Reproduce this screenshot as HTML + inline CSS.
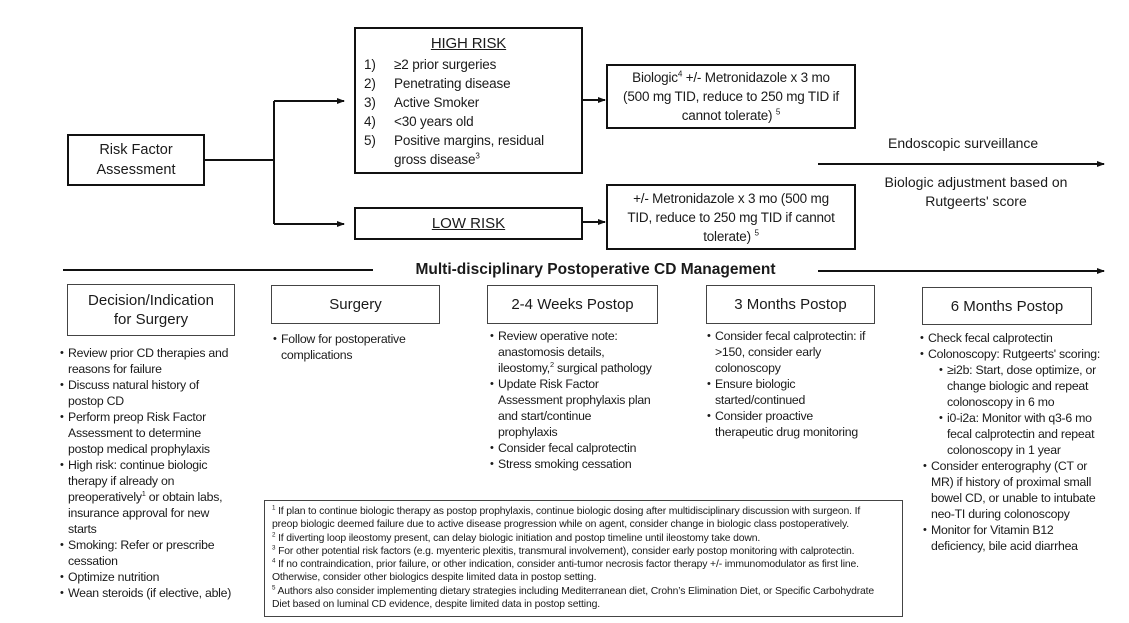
<!DOCTYPE html>
<html><head><meta charset="utf-8"><style>
body{margin:0;width:1129px;height:623px;background:#fff;position:relative;overflow:hidden;font-family:"Liberation Sans",sans-serif;color:#1a1a1a}
.a{position:absolute}
.box{position:absolute;border:2px solid #111;box-sizing:border-box}
.fx{display:flex;align-items:center;justify-content:center;text-align:center}
.hb{position:absolute;border:1px solid #444;box-sizing:border-box;display:flex;align-items:center;justify-content:center;text-align:center;font-size:15px;line-height:19px}
.t{position:absolute;font-size:13.5px;letter-spacing:-0.15px;white-space:nowrap}
ul{position:absolute;margin:0;padding:0;list-style:none;font-size:12.3px;letter-spacing:-0.25px;line-height:16px;white-space:nowrap}
li{position:relative;padding-left:7px}
li:before{content:"•";position:absolute;left:-1px;font-size:11px}
li.s{margin-left:19px}
.fn{position:absolute;left:264px;top:500px;width:639px;height:117px;border:1px solid #444;box-sizing:border-box;padding:4px 7px;font-size:10.4px;letter-spacing:-0.15px;line-height:13.3px;white-space:nowrap}
sup{font-size:0.6em;line-height:0;vertical-align:super}
</style></head><body>
<svg class="a" style="left:0;top:0" width="1129" height="623">
<defs><marker id="ar" markerWidth="8" markerHeight="8" refX="7" refY="4" orient="auto" markerUnits="userSpaceOnUse"><path d="M0,1 L8,4 L0,7z" fill="#111"/></marker></defs>
<g stroke="#111" stroke-width="2" fill="none">
<path d="M205 160 H274"/>
<path d="M274 101 V224"/>
<path d="M274 101 H344" marker-end="url(#ar)"/>
<path d="M274 224 H344" marker-end="url(#ar)"/>
<path d="M583 100 H605" marker-end="url(#ar)"/>
<path d="M583 222 H605" marker-end="url(#ar)"/>
<path d="M818 164 H1104" marker-end="url(#ar)"/>
<path d="M818 271 H1104" marker-end="url(#ar)"/>
<path d="M63 270 H373"/>
</g></svg>

<div class="box fx" style="left:67px;top:134px;width:138px;height:52px;font-size:14.5px;line-height:20px"><div>Risk Factor<br>Assessment</div></div>

<div class="box" style="left:354px;top:27px;width:229px;height:147px"></div>
<div class="t" style="left:354px;width:229px;text-align:center;top:35px;font-size:15px;text-decoration:underline">HIGH RISK</div>
<div class="t" style="left:364px;top:55px;line-height:19px">1)<br>2)<br>3)<br>4)<br>5)</div>
<div class="t" style="left:394px;top:55px;line-height:19px">≥2 prior surgeries<br>Penetrating disease<br>Active Smoker<br>&lt;30 years old<br>Positive margins, residual<br>gross disease<sup>3</sup></div>

<div class="box fx" style="left:354px;top:207px;width:229px;height:33px;font-size:15px"><u>LOW RISK</u></div>

<div class="box fx" style="left:606px;top:64px;width:250px;height:65px;font-size:13.5px;letter-spacing:-0.2px;line-height:19px"><div>Biologic<sup>4</sup> +/- Metronidazole x 3 mo<br>(500 mg TID, reduce to 250 mg TID if<br>cannot tolerate) <sup>5</sup></div></div>
<div class="box fx" style="left:606px;top:184px;width:250px;height:66px;font-size:13.5px;letter-spacing:-0.2px;line-height:19px"><div>+/- Metronidazole x 3 mo (500 mg<br>TID, reduce to 250 mg TID if cannot<br>tolerate) <sup>5</sup></div></div>

<div class="t" style="left:888px;top:135px;font-size:14px;letter-spacing:0">Endoscopic surveillance</div>
<div class="t" style="left:870px;width:212px;top:173px;font-size:14px;letter-spacing:0;text-align:center;line-height:19px">Biologic adjustment based on<br>Rutgeerts' score</div>

<div class="t" style="left:373px;width:445px;text-align:center;top:261px;font-size:15.5px;font-weight:bold;letter-spacing:0">Multi-disciplinary Postoperative CD Management</div>

<div class="hb" style="left:67px;top:284px;width:168px;height:52px">Decision/Indication<br>for Surgery</div>
<div class="hb" style="left:271px;top:285px;width:169px;height:39px">Surgery</div>
<div class="hb" style="left:487px;top:285px;width:171px;height:39px">2-4 Weeks Postop</div>
<div class="hb" style="left:706px;top:285px;width:169px;height:39px">3 Months Postop</div>
<div class="hb" style="left:922px;top:287px;width:170px;height:38px">6 Months Postop</div>

<ul style="left:61px;top:345px">
<li>Review prior CD therapies and<br>reasons for failure</li>
<li>Discuss natural history of<br>postop CD</li>
<li>Perform preop Risk Factor<br>Assessment to determine<br>postop medical prophylaxis</li>
<li>High risk: continue biologic<br>therapy if already on<br>preoperatively<sup>1</sup> or obtain labs,<br>insurance approval for new<br>starts</li>
<li>Smoking: Refer or prescribe<br>cessation</li>
<li>Optimize nutrition</li>
<li>Wean steroids (if elective, able)</li>
</ul>
<ul style="left:274px;top:331px">
<li>Follow for postoperative<br>complications</li>
</ul>
<ul style="left:491px;top:328px">
<li>Review operative note:<br>anastomosis details,<br>ileostomy,<sup>2</sup> surgical pathology</li>
<li>Update Risk Factor<br>Assessment prophylaxis plan<br>and start/continue<br>prophylaxis</li>
<li>Consider fecal calprotectin</li>
<li>Stress smoking cessation</li>
</ul>
<ul style="left:708px;top:328px">
<li>Consider fecal calprotectin: if<br>&gt;150, consider early<br>colonoscopy</li>
<li>Ensure biologic<br>started/continued</li>
<li>Consider proactive<br>therapeutic drug monitoring</li>
</ul>
<ul style="left:921px;top:330px">
<li>Check fecal calprotectin</li>
<li>Colonoscopy: Rutgeerts' scoring:</li>
<li class="s">≥i2b: Start, dose optimize, or<br>change biologic and repeat<br>colonoscopy in 6 mo</li>
<li class="s">i0-i2a: Monitor with q3-6 mo<br>fecal calprotectin and repeat<br>colonoscopy in 1 year</li>
<li style="margin-left:3px">Consider enterography (CT or<br>MR) if history of proximal small<br>bowel CD, or unable to intubate<br>neo-TI during colonoscopy</li>
<li style="margin-left:3px">Monitor for Vitamin B12<br>deficiency, bile acid diarrhea</li>
</ul>

<div class="fn"><sup>1</sup> If plan to continue biologic therapy as postop prophylaxis, continue biologic dosing after multidisciplinary discussion with surgeon. If<br>preop biologic deemed failure due to active disease progression while on agent, consider change in biologic class postoperatively.<br><sup>2</sup> If diverting loop ileostomy present, can delay biologic initiation and postop timeline until ileostomy take down.<br><sup>3</sup> For other potential risk factors (e.g. myenteric plexitis, transmural involvement), consider early postop monitoring with calprotectin.<br><sup>4</sup> If no contraindication, prior failure, or other indication, consider anti-tumor necrosis factor therapy +/- immunomodulator as first line.<br>Otherwise, consider other biologics despite limited data in postop setting.<br><sup>5</sup> Authors also consider implementing dietary strategies including Mediterranean diet, Crohn’s Elimination Diet, or Specific Carbohydrate<br>Diet based on luminal CD evidence, despite limited data in postop setting.</div>
</body></html>
